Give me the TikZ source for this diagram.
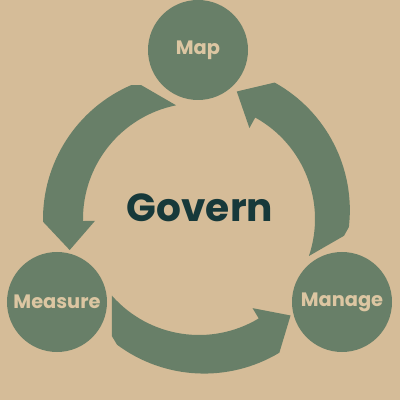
\documentclass[tikz,border=0pt]{standalone}
\usepackage{fontspec}
\setmainfont{Poppins}
\usepackage{xcolor}
\usetikzlibrary{positioning}
\definecolor{sand}{HTML}{D5BC98}
\definecolor{sage}{HTML}{687F68}
\definecolor{label}{HTML}{DCC6A2}
\definecolor{ink}{HTML}{17393A}

\begin{document}
\begin{tikzpicture}[x=0.25mm,y=0.25mm]
\tikzset{
    stage/.style = {circle, fill=sage, minimum size=25mm, inner sep=0pt, text=label, font=\bfseries\fontsize{13.8}{14}\selectfont},
    cyclearrow/.style = {fill=sage}
}
\fill[sand] (0,0) rectangle (400,400);
\useasboundingbox (0,0) rectangle (400,400);
\coordinate (hub) at (199,181);
% three curved arrows, one shape turned round the hub
\foreach \turn in {0,120,240}
{
   \begin{scope}[shift={(hub)},rotate=\turn]
   \fill[cyclearrow] (233.4:146) -- (221.4:116) arc[start angle=221.4, end angle=301, radius=116]
      -- (301:104) -- (313.5:133) -- (301:156) arc[start angle=301, end angle=233.4, radius=146] -- cycle;
   \end{scope}
}
\node [stage] (map) at (198,350) {Map};
\node [stage] (measure) at (57,98) {Measure};
\node [stage] (manage) at (342,98) {Manage};
\node [text=ink, font=\bfseries\fontsize{27.8}{28}\selectfont] (govern) at (200,192) {Govern};
\end{tikzpicture}
\end{document}
